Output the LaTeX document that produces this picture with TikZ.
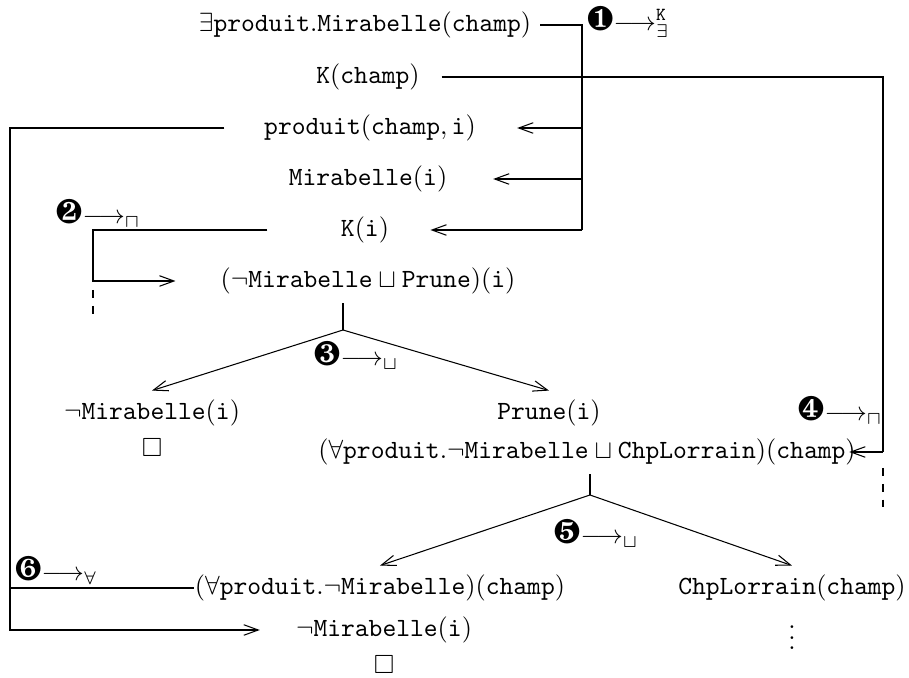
\documentclass[tikz,border=0pt]{standalone}
\usepackage{amsmath,amsfonts,amssymb}
\usepackage{pifont}
\usetikzlibrary{arrows.meta, calc, positioning}
\newcommand{\ttm}[1]{\mathtt{#1}}
\newcommand{\num}[1]{{\fontsize{13}{13}\selectfont\ding{#1}}}
\newcommand{\regle}[2]{\num{#1}$\longrightarrow_{#2}$}
\newcommand{\fleche}{\draw[->]}

\begin{document}
\begin{tikzpicture}[x=1.337cm, y=1.337cm, >={Straight Barb[length=5.5pt,width=4pt]}]
\useasboundingbox (0,0) rectangle (9.09,6.78);
% Les assertions
\node (ex) at (3.65,6.53) {$\exists\ttm{produit}.\ttm{Mirabelle}(\ttm{champ})$};
\node (kc) at (3.68,6.01) {$\ttm{K}(\ttm{champ})$};
\node (prod) at (3.70,5.50) {$\ttm{produit}(\ttm{champ},\ttm{i})$};
\node (mi) at (3.68,4.99) {$\ttm{Mirabelle}(\ttm{i})$};
\node (ki) at (3.65,4.48) {$\ttm{K}(\ttm{i})$};
\node (or1) at (3.68,3.97) {$(\neg\ttm{Mirabelle}\sqcup\ttm{Prune})(\ttm{i})$};
\node (nm) at (1.52,2.65) {$\neg\ttm{Mirabelle}(\ttm{i})$};
\node (sq1) at (1.52,2.30) {$\square$};
\node (pr) at (5.49,2.65) {$\ttm{Prune}(\ttm{i})$};
\node (or2) at (5.87,2.26) {$(\forall\ttm{produit}.\neg\ttm{Mirabelle}\sqcup\ttm{ChpLorrain})(\ttm{champ})$};
\node (fa) at (3.80,0.90) {$(\forall\ttm{produit}.\neg\ttm{Mirabelle})(\ttm{champ})$};
\node (cl) at (7.92,0.90) {$\ttm{ChpLorrain}(\ttm{champ})$};
\node (nm2) at (3.84,0.48) {$\neg\ttm{Mirabelle}(\ttm{i})$};
\node[inner sep=0pt] (vd) at (7.92,0.48) {$\vdots$};
\node (sq2) at (3.84,0.13) {$\square$};

% Les regles
\node (r1) at (6.28,6.56) {\num{182}$\longrightarrow^{\ttm{K}}_{\exists}$};
\node (r2) at (0.98,4.65) {\regle{183}{\sqcap}};
\node (r3) at (3.56,3.23) {\regle{184}{\sqcup}};
\node (r4) at (8.40,2.68) {\regle{185}{\sqcap}};
\node (r5) at (5.96,1.45) {\regle{186}{\sqcup}};
\node (r6) at (0.56,1.08) {\regle{187}{\forall}};

% Regle 1
\coordinate (j1) at (5.82,6.53);
\draw (ex) -- (j1) -- (j1 |- ki);
\fleche[shorten >=0.43cm] (j1 |- prod) -- (prod.east);
\fleche[shorten >=0.49cm] (j1 |- mi) -- (mi.east);
\fleche[shorten >=0.43cm] (j1 |- ki) -- (ki.east);

% Regle 2
\coordinate (j4) at (0.93,4.48);
\fleche[shorten <=0.86cm, shorten >=0.48cm] (ki.west) -- (j4) -- (j4 |- or1) -- (or1.west);
\draw[dashed] (0.93,3.88) -- (0.93,3.58);

% Regle 3
\coordinate (b1) at (3.43,3.48);
\draw (or1.south -| b1) -- (b1);
\fleche (b1) -- (nm.north);
\fleche (b1) -- (pr.north);

% Regle 4
\coordinate (j2) at (8.83,6.01);
\draw[shorten <=0.17cm] (kc) -- (j2) -- (j2 |- or2);
\fleche[shorten >=-0.21cm] (j2 |- or2) -- (or2.east);
\draw[dashed] (8.83,2.10) -- (8.83,1.70);

% Regle 5
\coordinate (b2) at (5.90,1.83);
\draw (or2.south -| b2) -- (b2);
\fleche (b2) -- (fa.north);
\fleche (b2) -- (cl.north);

% Regle 6
\coordinate (j3) at (0.10,5.50);
\fleche[shorten <=0.41cm, shorten >=0.36cm] (prod.west) -- (j3) -- (j3 |- nm2) -- (nm2.west);
\draw[shorten >=-3pt] (j3 |- fa) -- (fa.west);

\end{tikzpicture}
\end{document}
